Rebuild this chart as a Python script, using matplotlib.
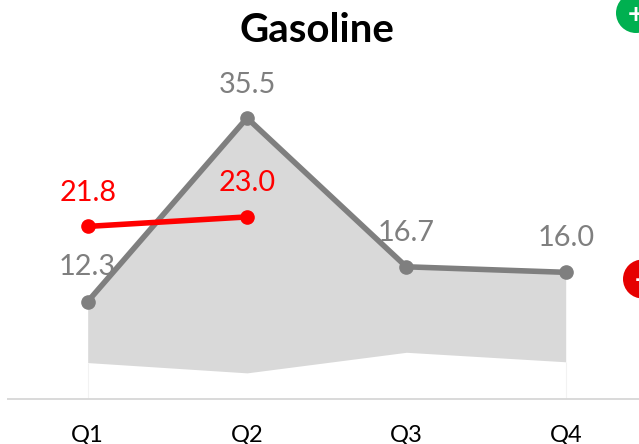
import matplotlib
matplotlib.use('Agg')
import matplotlib.pyplot as plt
from matplotlib.patches import Circle

plt.rcParams['font.family'] = ['Lato', 'DejaVu Sans']

quarters = ['Q1', 'Q2', 'Q3', 'Q4']
actual = [12.3, 35.5, 16.7, 16.0]   # grey line
band_low = [4.6, 3.3, 5.9, 4.7]     # bottom edge of the shaded area
current = [21.8, 23.0]              # red line, only two quarters so far

W, H = 639, 444
GREY = '#7f7f7f'
RED = '#ff0000'

fig = plt.figure(figsize=(W/100, H/100), dpi=100)
# axes runs from the axis line up to the top of the image, cut off on the right
ax = fig.add_axes([8/W, (H-399)/H, (W-8)/W, 399/H])
x = list(range(len(quarters)))

ax.fill_between(x, band_low, actual, color='#d9d9d9', lw=0, zorder=1)
ax.vlines([x[0], x[-1]], 0, [band_low[0], band_low[-1]], color='#f2f2f2', lw=0.8, zorder=1)

ax.plot(x, actual, color=GREY, lw=4.0, marker='o', ms=9.5, zorder=3, solid_capstyle='round')
ax.plot(x[:len(current)], current, color=RED, lw=4.0, marker='o', ms=9.5, zorder=4, solid_capstyle='round')

# data labels, nudged by hand where the original has them off centre
grey_off = [(0, 22), (0, 20), (0, 21), (0, 21)]
for i, v in enumerate(actual):
    ax.annotate(f'{v:.1f}', (x[i], v), xytext=grey_off[i], textcoords='offset pixels',
                ha='center', va='bottom', fontsize=20.8, color=GREY, zorder=2)
red_off = [(0, 20), (0, 21)]
for i, v in enumerate(current):
    ax.annotate(f'{v:.1f}', (x[i], v), xytext=red_off[i], textcoords='offset pixels',
                ha='center', va='bottom', fontsize=20.8, color=RED, zorder=5)

ax.set_xlim(-0.5, 3.46)
ax.set_ylim(0, 50.4)
ax.set_xticks(x)
ax.set_xticklabels(quarters, fontsize=17, color='black')
ax.tick_params(axis='x', length=0, pad=18.5)
ax.set_yticks([])
for s in ['top', 'right', 'left']:
    ax.spines[s].set_visible(False)
ax.spines['bottom'].set_color('#d9d9d9')
ax.spines['bottom'].set_linewidth(1.4)

fig.text(317/W, 1-31/H, 'Gasoline', ha='center', va='center', fontsize=29, fontweight='bold', color='black')

# the two round buttons sitting on the right edge
fig.add_artist(Circle((636, H-13), 20, transform=None, color='#00b050', lw=0))
fig.add_artist(Circle((642.5, H-279), 19.5, transform=None, color='#e60000', lw=0))
fig.text(636/W, 1-15/H, '+', color='white', fontsize=20, fontweight='bold', ha='center', va='center')
fig.text(643/W, 1-281/H, '+', color='white', fontsize=20, fontweight='bold', ha='center', va='center')

fig.savefig('out.png', dpi=100)
